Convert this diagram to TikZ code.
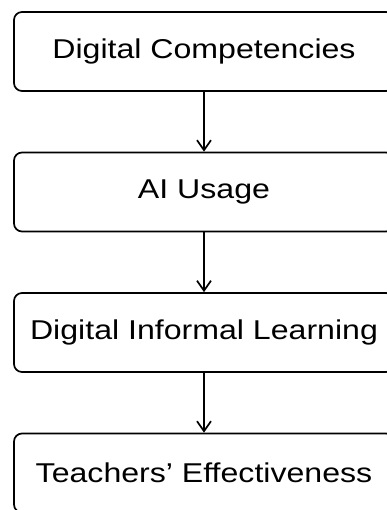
\documentclass[tikz,border=0pt]{standalone}
\usepackage{fontspec}
\newfontfamily\boxfont[FakeStretch=1.18]{Liberation Sans}
\usetikzlibrary{arrows.meta}
\begin{document}
\begin{tikzpicture}[x=1pt,y=-1pt,
        box/.style={draw, line width=1.7pt, rounded corners=8pt,
            minimum width=380pt, minimum height=79pt, inner sep=0pt,
            font=\boxfont\fontsize{27.2}{30}\selectfont},
        flow/.style={-{Straight Barb[length=10pt,width=14pt]}, line width=1.7pt}]
        \useasboundingbox (0,0) rectangle (386,510);
        \node[box] (v0) at (204,  51.5) {Digital Competencies};
        \node[box] (v1) at (204, 192)   {AI Usage};
        \node[box] (v2) at (204, 332.5) {Digital Informal Learning};
        \node[box] (v3) at (204, 473)   {Teachers’ Effectiveness};
        \draw[flow] (v0) -- (v1);
        \draw[flow] (v1) -- (v2);
        \draw[flow] (v2) -- (v3);
        \end{tikzpicture}
\end{document}
